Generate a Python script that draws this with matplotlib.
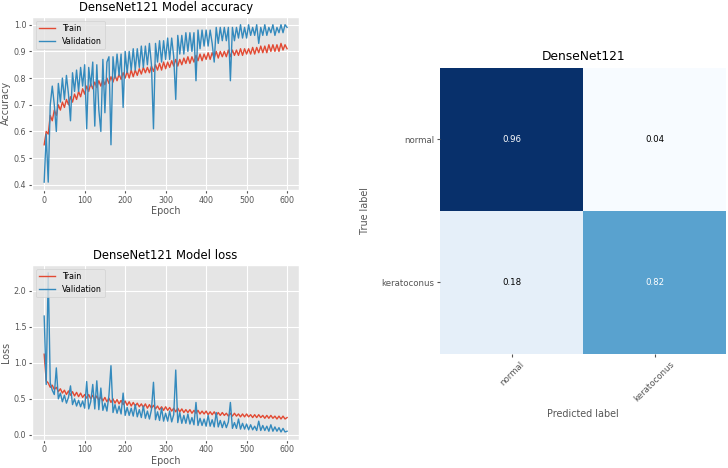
import numpy as np
import matplotlib
matplotlib.use("Agg")
import matplotlib.pyplot as plt

plt.style.use("ggplot")
plt.rcParams["font.size"] = 5.8
plt.rcParams["axes.titlesize"] = 8.4
plt.rcParams["axes.labelsize"] = 6.9

# epochs sampled every 5 epochs
epochs = np.arange(0, 601, 5)

train_acc = [
    0.55, 0.60, 0.59, 0.66, 0.64, 0.68, 0.66, 0.70, 0.68, 0.71,
    0.69, 0.72, 0.70, 0.73, 0.71, 0.74, 0.72, 0.75, 0.73, 0.76,
    0.74, 0.77, 0.75, 0.78, 0.76, 0.785, 0.765, 0.79, 0.77, 0.795,
    0.775, 0.80, 0.78, 0.805, 0.785, 0.81, 0.79, 0.815, 0.795, 0.82,
    0.80, 0.825, 0.80, 0.83, 0.805, 0.83, 0.81, 0.835, 0.815, 0.84,
    0.82, 0.84, 0.82, 0.845, 0.825, 0.85, 0.83, 0.855, 0.83, 0.86,
    0.835, 0.86, 0.84, 0.865, 0.845, 0.87, 0.845, 0.87, 0.85, 0.875,
    0.855, 0.88, 0.855, 0.88, 0.86, 0.885, 0.865, 0.89, 0.865, 0.89,
    0.87, 0.895, 0.87, 0.895, 0.875, 0.90, 0.875, 0.90, 0.88, 0.90,
    0.88, 0.905, 0.88, 0.905, 0.885, 0.905, 0.885, 0.91, 0.885, 0.91,
    0.89, 0.91, 0.89, 0.915, 0.89, 0.915, 0.895, 0.92, 0.895, 0.92,
    0.895, 0.925, 0.90, 0.925, 0.90, 0.925, 0.90, 0.93, 0.905, 0.925,
    0.91,
]
val_acc = [
    0.41, 0.59, 0.41, 0.70, 0.77, 0.70, 0.60, 0.78, 0.71, 0.80,
    0.72, 0.81, 0.74, 0.64, 0.82, 0.75, 0.83, 0.75, 0.84, 0.77,
    0.85, 0.61, 0.84, 0.77, 0.86, 0.62, 0.85, 0.68, 0.60, 0.87,
    0.67, 0.86, 0.88, 0.55, 0.88, 0.80, 0.89, 0.81, 0.89, 0.69,
    0.90, 0.82, 0.90, 0.83, 0.91, 0.83, 0.91, 0.84, 0.92, 0.84,
    0.92, 0.85, 0.93, 0.85, 0.61, 0.93, 0.86, 0.94, 0.86, 0.94,
    0.87, 0.95, 0.87, 0.95, 0.88, 0.72, 0.96, 0.89, 0.96, 0.89,
    0.97, 0.90, 0.97, 0.90, 0.97, 0.79, 0.98, 0.91, 0.98, 0.92,
    0.98, 0.92, 0.98, 0.93, 0.86, 0.99, 0.93, 0.99, 0.94, 0.99,
    0.94, 0.99, 0.79, 0.99, 0.94, 0.99, 0.95, 1.00, 0.95, 0.99,
    0.95, 1.00, 0.96, 0.99, 0.96, 1.00, 0.93, 0.99, 0.96, 1.00,
    0.96, 0.99, 0.97, 1.00, 0.96, 0.99, 0.97, 1.00, 0.97, 1.00,
    0.99,
]
train_loss = [
    1.12, 0.75, 0.72, 0.66, 0.69, 0.63, 0.66, 0.60, 0.64, 0.58,
    0.62, 0.56, 0.61, 0.55, 0.60, 0.54, 0.59, 0.53, 0.58, 0.52,
    0.56, 0.51, 0.56, 0.50, 0.55, 0.49, 0.54, 0.48, 0.53, 0.47,
    0.52, 0.46, 0.51, 0.45, 0.50, 0.44, 0.49, 0.43, 0.48, 0.42,
    0.47, 0.41, 0.46, 0.40, 0.45, 0.40, 0.44, 0.39, 0.43, 0.38,
    0.43, 0.37, 0.42, 0.37, 0.41, 0.36, 0.40, 0.35, 0.39, 0.34,
    0.39, 0.34, 0.38, 0.33, 0.37, 0.32, 0.37, 0.32, 0.36, 0.31,
    0.35, 0.31, 0.35, 0.30, 0.34, 0.30, 0.34, 0.29, 0.33, 0.29,
    0.33, 0.28, 0.32, 0.28, 0.32, 0.27, 0.31, 0.27, 0.31, 0.27,
    0.30, 0.26, 0.30, 0.26, 0.30, 0.26, 0.29, 0.25, 0.29, 0.25,
    0.29, 0.25, 0.28, 0.24, 0.28, 0.24, 0.28, 0.24, 0.27, 0.23,
    0.27, 0.23, 0.27, 0.23, 0.26, 0.22, 0.26, 0.22, 0.26, 0.22,
    0.24,
]
val_loss = [
    1.65, 0.70, 2.25, 0.72, 0.62, 0.56, 0.93, 0.50, 0.58, 0.46,
    0.55, 0.44, 0.52, 0.68, 0.42, 0.50, 0.40, 0.48, 0.39, 0.47,
    0.37, 0.74, 0.36, 0.46, 0.70, 0.36, 0.75, 0.35, 0.65, 0.34,
    0.44, 0.33, 0.55, 0.96, 0.31, 0.42, 0.30, 0.40, 0.29, 0.58,
    0.27, 0.38, 0.27, 0.37, 0.26, 0.42, 0.25, 0.35, 0.24, 0.40,
    0.23, 0.33, 0.22, 0.35, 0.73, 0.21, 0.32, 0.20, 0.37, 0.19,
    0.30, 0.19, 0.33, 0.18, 0.28, 0.90, 0.17, 0.31, 0.16, 0.27,
    0.16, 0.29, 0.15, 0.24, 0.14, 0.45, 0.13, 0.23, 0.13, 0.22,
    0.12, 0.27, 0.12, 0.21, 0.11, 0.31, 0.11, 0.20, 0.10, 0.19,
    0.10, 0.18, 0.45, 0.09, 0.17, 0.09, 0.22, 0.08, 0.16, 0.08,
    0.15, 0.07, 0.14, 0.07, 0.12, 0.06, 0.19, 0.06, 0.13, 0.06,
    0.12, 0.05, 0.14, 0.05, 0.11, 0.05, 0.10, 0.04, 0.09, 0.04,
    0.05,
]

# confusion matrix (counts), shown row-normalised
class_names = ["normal", "keratoconus"]
cm_counts = np.array([[96, 4], [12, 55]])

fig = plt.figure(figsize=(7.28, 4.68), dpi=100)

ax1 = fig.add_axes([0.044, 0.594, 0.367, 0.370])
ax1.plot(epochs, train_acc, label="Train", lw=1.0)
ax1.plot(epochs, val_acc, label="Validation", lw=1.0)
ax1.set_title("DenseNet121 Model accuracy", pad=4)
ax1.set_xlabel("Epoch", labelpad=1)
ax1.set_ylabel("Accuracy", labelpad=2)
ax1.legend(loc="upper left")

ax2 = fig.add_axes([0.044, 0.060, 0.367, 0.374])
ax2.plot(epochs, train_loss, label="Train", lw=1.0)
ax2.plot(epochs, val_loss, label="Validation", lw=1.0)
ax2.set_title("DenseNet121 Model loss", pad=4)
ax2.set_xlabel("Epoch", labelpad=1)
ax2.set_ylabel("Loss", labelpad=2)
ax2.legend(loc="upper left")

for ax in (ax1, ax2):
    ax.tick_params(length=2, pad=2)

ax3 = fig.add_axes([0.603, 0.244, 0.396, 0.611])
cm_norm = cm_counts / cm_counts.sum(axis=1, keepdims=True)
ax3.imshow(cm_counts, cmap="Blues", interpolation="nearest")
ax3.set_facecolor("white")
ax3.grid(False)
for s in ax3.spines.values():
    s.set_visible(False)
thresh = cm_norm.max() / 2
for i in range(cm_norm.shape[0]):
    for j in range(cm_norm.shape[1]):
        ax3.text(j, i, f"{cm_norm[i, j]:.2f}", ha="center", va="center",
                 fontsize=6.2,
                 color="white" if cm_norm[i, j] > thresh else "black")
ax3.set_xticks(range(len(class_names)))
ax3.set_yticks(range(len(class_names)))
ax3.set_xticklabels(class_names, rotation=45, fontsize=6.2)
ax3.set_yticklabels(class_names, fontsize=6.2)
ax3.tick_params(length=2, pad=2)
ax3.set_title("DenseNet121", fontsize=8.8, pad=6)
ax3.set_xlabel("Predicted label", fontsize=6.9, labelpad=4)
ax3.set_ylabel("True label", fontsize=6.9, labelpad=8)

fig.savefig("out.png", dpi=100)
